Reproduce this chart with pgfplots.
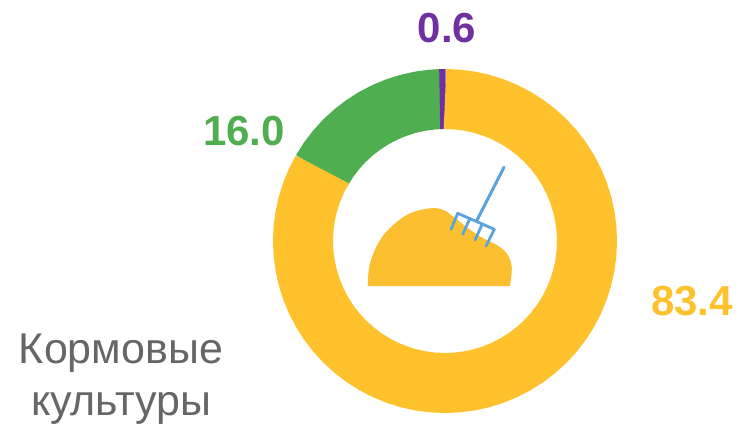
\documentclass[border=0pt]{standalone}
\usepackage{pgfplots}
\pgfplotsset{compat=1.18}
\usepackage{fontspec}
\setmainfont{Liberation Sans}
\definecolor{cy}{HTML}{FFC22D}
\definecolor{cp}{HTML}{FCBF30}
\definecolor{cg}{HTML}{4FAF50}
\definecolor{cv}{HTML}{7030A0}
\definecolor{cr}{HTML}{5BA3DC}
\definecolor{ct}{HTML}{666666}
\begin{document}
\begin{tikzpicture}
\begin{axis}[
  width=738pt, height=424pt, scale only axis,
  xmin=-445, xmax=293, ymin=-183, ymax=241,
  axis lines=none, clip=false, ticks=none,
  every axis plot/.append style={no markers, line cap=butt, line join=miter, miter limit=10},
]
\path[use as bounding box] (axis cs:-445,-183) rectangle (axis cs:293,241);
% ring: (angle, mid radius), clockwise from the top; shares 83.4 / 16.0 / 0.6
\addplot[data cs=polar, color=cg, line width=60pt] coordinates {
(-209.5,142)(-215,142)(-220,142)(-225,142)(-230,142)(-235,142)(-240,142)(-245,142)(-250,142)(-255,142)(-260,142)(-265,142)(-268.5,142)};
\addplot[data cs=polar, color=cv, line width=60pt] coordinates {(-267.84,142)(-270.4,142)};
\addplot[data cs=polar, color=cy, line width=60pt] coordinates {
(90,142)(85,142)(80,142)(75,142)(70,142)(65,142)(60,142)(55,142)(50,142)(45,142)
(40,142)(35,142)(30,142)(25,142)(20,142)(15,142)(10,142)(5,142)(0,142)
(-5,142)(-10,142)(-15,142)(-20,142)(-25,142)(-30,142)(-35,142)(-40,142)(-45,142)(-50,142)
(-55,142)(-60,142)(-65,142)(-70,142)(-75,142)(-80,142)(-85,142)(-90,142)(-95,142)(-100,142)
(-105,142)(-110,142)(-115,142)(-120,142)(-125,142)(-130,142)(-135,142)(-140,142)(-145,142)(-150,142)
(-155,142)(-160,142)(-165,142)(-170,142)(-175,142)(-180,142)(-185,142)(-190,142)(-195,142)(-200,142)
(-205,142)(-210.24,142)};
% pile
\addplot[draw=none, fill=cp, smooth, tension=0.6] coordinates {
(-77.3,-45)(-75,-22.3)(-65,1)(-51.7,16)(-35,27.7)(-15,32.7)(-1.7,31)(10,23)(24,12)(38.3,2.7)(51.7,-4)(61.7,-12.3)(66.7,-25.7)(65,-45)};
% rake
\addplot[color=cr, line width=3pt, line cap=round] coordinates {(59,73.7)(31.7,20.3)};
\addplot[color=cr, line width=2.8pt, line cap=round] coordinates {(12.7,27.7)(49.3,11.7)};
\addplot[color=cr, line width=2.8pt, line cap=round] coordinates {(12.7,27.7)(6,11.7)};
\addplot[color=cr, line width=2.8pt, line cap=round] coordinates {(25,22.7)(17.7,6.7)};
\addplot[color=cr, line width=2.8pt, line cap=round] coordinates {(37.3,17)(30,1)};
\addplot[color=cr, line width=2.8pt, line cap=round] coordinates {(49.3,11.7)(41,-5)};
\node[text=cv, font=\fontsize{42}{46}\selectfont\bfseries] at (axis cs:2,213) {0.6};
\node[text=cg, font=\fontsize{42}{46}\selectfont\bfseries] at (axis cs:-201,110) {16.0};
\node[text=cy, font=\fontsize{42}{46}\selectfont\bfseries] at (axis cs:247,-60) {83.4};
\node[text=ct, align=center, font=\fontsize{43}{52}\selectfont] at (axis cs:-324,-138.5) {Кормовые\\культуры};
\end{axis}
\end{tikzpicture}
\end{document}
